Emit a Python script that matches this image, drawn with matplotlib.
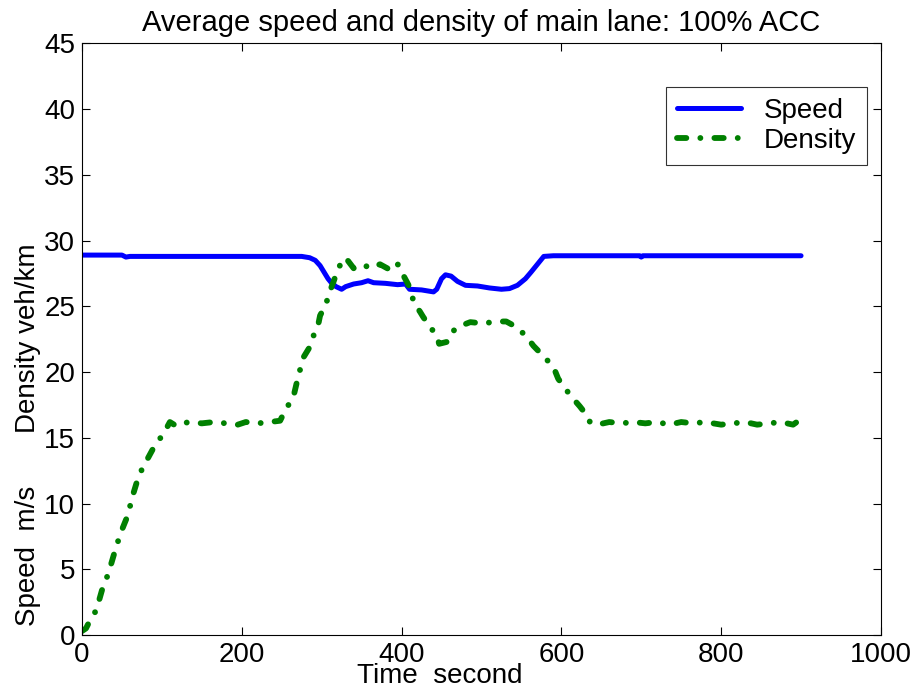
import matplotlib
matplotlib.use('Agg')
import matplotlib.pyplot as plt

# speed (m/s)
speed_t = [0, 50, 55, 60, 275, 285, 292, 298, 303, 308, 312, 318, 325, 330, 340,
           350, 358, 365, 380, 395, 405, 410, 425, 440, 444, 450, 455, 462, 470,
           480, 495, 510, 525, 535, 545, 555, 562, 570, 578, 590, 698, 700, 702, 900]
speed_v = [28.9, 28.9, 28.75, 28.8, 28.8, 28.7, 28.5, 28.1, 27.6, 27.1, 26.8, 26.5,
           26.3, 26.5, 26.7, 26.8, 26.95, 26.8, 26.75, 26.65, 26.7, 26.3, 26.25,
           26.1, 26.3, 27.1, 27.4, 27.3, 26.9, 26.6, 26.55, 26.4, 26.3, 26.35, 26.6,
           27.1, 27.6, 28.2, 28.8, 28.85, 28.85, 28.75, 28.85, 28.85]

# density (veh/km)
dens_t = [0, 5, 10, 18, 25, 31, 37, 43, 50, 58, 62, 69, 77, 83, 91, 102, 110, 118,
          125, 135, 150, 165, 180, 195, 205, 220, 235, 248, 256, 264, 270, 277, 285,
          290, 296, 298, 305, 310, 315, 319, 325, 330, 340, 352, 360, 373, 385, 394,
          398, 401, 408, 412, 415, 423, 427, 436, 444, 447, 457, 463, 469, 486, 502,
          519, 531, 540, 548, 557, 565, 577, 590, 596, 602, 613, 623, 632, 636, 645,
          660, 675, 690, 705, 720, 735, 750, 765, 780, 800, 815, 830, 845, 860, 875,
          890, 897]
dens_v = [0.3, 0.5, 1.1, 1.9, 3.4, 4.35, 5.5, 6.75, 8.0, 9.2, 10.3, 11.7, 12.9, 13.5,
          14.4, 15.3, 16.2, 15.9, 16.1, 16.2, 16.1, 16.2, 16.1, 16.0, 16.2, 16.1,
          16.2, 16.3, 17.3, 17.95, 19.5, 21.1, 21.9, 22.8, 23.7, 24.3, 25.1, 26.1,
          26.9, 27.6, 28.4, 28.7, 27.9, 28.2, 27.9, 28.2, 27.8, 28.3, 27.95, 27.5,
          26.7, 26.2, 25.3, 24.6, 24.2, 23.4, 22.8, 22.15, 22.3, 23.0, 23.4, 23.8,
          23.7, 23.85, 23.85, 23.55, 23.2, 22.65, 22.0, 21.25, 20.4, 19.5, 18.97,
          18.1, 17.4, 16.7, 16.17, 16.0, 16.2, 16.1, 16.2, 16.1, 16.2, 16.0, 16.2,
          16.1, 16.2, 16.0, 16.1, 16.2, 16.0, 16.1, 16.2, 16.0, 16.3]

plt.rcParams['font.family'] = ['Liberation Sans', 'DejaVu Sans']

fig = plt.figure(figsize=(9.19, 6.92), dpi=100)
ax = fig.add_axes([0.0892, 0.0824, 0.8694, 0.8548])

ax.plot(speed_t, speed_v, color='#0000ff', lw=3.6, label='Speed', solid_capstyle='round')
ax.plot(dens_t, dens_v, color='#008000', lw=4.2, linestyle=(0, (1.6, 2.4, 0.01, 2.4)),
        dash_capstyle='round', label='Density')

ax.set_xlim(0, 1000)
ax.set_ylim(0, 45)
ax.set_xticks(range(0, 1001, 200))
ax.set_yticks(range(0, 46, 5))
ax.tick_params(direction='in', labelsize=20, length=6, top=True, right=True,
               labeltop=False, labelright=False, pad=5)
ax.set_title('Average speed and density of main lane: 100% ACC', fontsize=21, pad=9)

# labels overlap the tick labels in the original as well
fig.text(0.479, 0.013, 'Time  second', fontsize=20, ha='center', va='baseline')
fig.text(0.030, 0.196, 'Speed  m/s', fontsize=20, rotation=90, ha='center', va='center')
fig.text(0.030, 0.511, 'Density veh/km', fontsize=20, rotation=90, ha='center', va='center')

leg = ax.legend(loc='upper right', bbox_to_anchor=(0.9825, 0.9265), fontsize=20,
                frameon=True, fancybox=False, edgecolor='black', handlelength=2.3,
                handletextpad=0.8, borderaxespad=0, borderpad=0.4, labelspacing=0.15)
leg.get_frame().set_linewidth(0.8)

plt.savefig('out.png', dpi=100)
